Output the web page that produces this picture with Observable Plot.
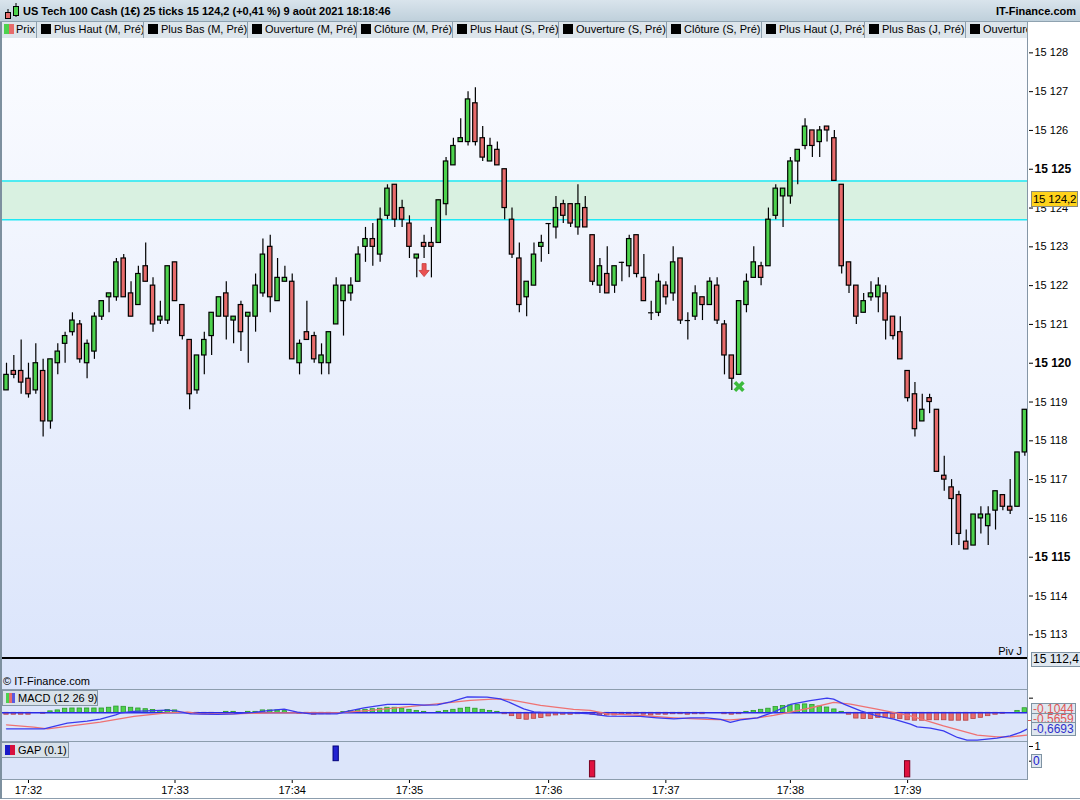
<!DOCTYPE html>
<html><head><meta charset="utf-8">
<script src="https://cdn.jsdelivr.net/npm/d3@7"></script>
<script src="https://cdn.jsdelivr.net/npm/@observablehq/plot@0.6"></script>
<style>
body{margin:0;background:#fff;font-family:"Liberation Sans",Arial,sans-serif;}
#root{position:relative;width:1080px;height:800px;overflow:hidden;background:#fff;}
.abs{position:absolute;}
.tab{position:absolute;top:22px;height:16px;box-sizing:border-box;border-right:1px solid #8d9fad;background:#dde5eb;font-size:11px;line-height:15px;white-space:nowrap;overflow:hidden;}
.tab i{display:inline-block;width:10px;height:10px;background:#000;vertical-align:-1px;margin:0 3px 0 4px;}
.box{position:absolute;background:#d8e1e9;border:1px solid #8596a5;font-size:11px;line-height:14px;white-space:nowrap;box-sizing:border-box;}
.rbox{position:absolute;background:#dfe7ef;border:1px solid #7f93a3;font-size:12px;line-height:13px;white-space:nowrap;box-sizing:border-box;padding:0 1px;}
</style></head><body><div id="root"></div>
<script>
// ---------- DATA ----------
const open = [15119.3,15119.8,15119.8,15119.6,15119.3,15119.8,15118.5,15120.0,15120.5,15120.8,15121.0,15120.0,15120.3,15121.2,15121.7,15121.7,15122.7,15121.8,15121.5,15122.5,15122.0,15121.1,15121.1,15122.6,15121.5,15120.6,15119.3,15120.2,15120.7,15121.2,15121.8,15121.1,15121.5,15121.2,15121.2,15121.8,15123.0,15121.6,15122.1,15122.1,15120.0,15120.8,15120.7,15120.0,15120.0,15121.0,15121.6,15121.8,15122.1,15123.0,15123.2,15122.8,15123.8,15124.6,15124.0,15123.6,15122.7,15123.1,15123.1,15123.1,15124.1,15125.1,15125.7,15125.7,15126.7,15125.8,15125.2,15125.5,15125.0,15123.7,15122.7,15121.7,15122.0,15123.0,15123.6,15123.5,15124.1,15124.1,15123.5,15124.0,15123.3,15122.0,15122.3,15122.0,15122.6,15122.5,15123.3,15122.2,15121.3,15121.3,15122.0,15121.8,15122.7,15121.1,15121.2,15121.7,15121.5,15122.0,15121.0,15120.2,15119.7,15121.5,15122.2,15122.5,15122.5,15123.8,15124.3,15124.3,15125.2,15125.6,15126.0,15125.7,15126.1,15125.8,15124.6,15122.6,15122.0,15121.3,15121.7,15121.7,15121.8,15121.2,15120.8,15119.8,15119.2,15118.5,15119.1,15118.8,15117.1,15116.8,15116.6,15115.4,15115.3,15116.0,15115.8,15116.2,15116.6,15116.3,15116.3,15117.7];
const high = [15120.0,15120.2,15120.6,15120.0,15120.5,15120.1,15120.1,15120.5,15120.8,15121.3,15121.1,15120.6,15121.3,15121.6,15121.8,15122.7,15122.8,15122.1,15122.5,15123.1,15122.2,15121.6,15122.5,15122.6,15121.5,15120.6,15120.2,15120.8,15121.3,15121.7,15122.1,15121.2,15121.6,15121.3,15122.3,15123.2,15123.3,15122.7,15122.5,15122.3,15120.6,15121.6,15120.8,15120.5,15120.8,15122.2,15122.0,15122.2,15123.0,15123.5,15123.6,15124.0,15124.6,15124.6,15124.2,15123.8,15122.8,15123.3,15123.5,15124.2,15125.3,15125.8,15126.3,15127.0,15127.1,15126.1,15125.8,15125.7,15125.0,15124.0,15123.1,15122.1,15123.1,15123.3,15123.6,15124.3,15124.2,15124.1,15124.6,15124.3,15123.3,15122.7,15123.0,15122.5,15122.6,15123.3,15123.3,15122.8,15121.6,15122.3,15122.1,15123.0,15122.7,15121.3,15122.0,15121.7,15122.2,15122.2,15121.1,15120.2,15121.6,15122.3,15123.0,15122.6,15124.0,15124.6,15124.5,15125.3,15125.5,15126.3,15126.0,15126.1,15126.1,15126.0,15124.6,15122.6,15122.0,15121.8,15122.1,15122.2,15122.0,15121.2,15121.2,15119.8,15119.5,15119.2,15119.2,15118.8,15117.6,15117.0,15116.7,15115.7,15116.1,15116.3,15116.3,15116.7,15116.6,15117.0,15117.7,15118.8];
const low = [15119.3,15119.6,15119.2,15119.1,15119.2,15118.1,15118.3,15119.7,15120.0,15120.7,15120.0,15119.6,15120.1,15121.1,15121.3,15121.6,15121.7,15121.2,15121.5,15122.1,15120.8,15121.0,15121.0,15121.6,15120.6,15118.8,15119.2,15119.7,15120.2,15121.2,15120.6,15120.5,15120.3,15120.0,15120.8,15121.7,15121.3,15121.6,15122.1,15120.1,15119.7,15120.6,15120.0,15119.7,15119.7,15121.0,15120.7,15121.6,15122.1,15122.6,15122.5,15122.6,15123.7,15123.5,15123.5,15122.7,15122.2,15122.7,15122.2,15123.1,15123.8,15125.1,15125.7,15125.6,15125.6,15125.2,15125.2,15125.1,15123.7,15122.7,15121.3,15121.2,15122.0,15122.6,15122.8,15123.2,15123.6,15123.5,15123.3,15123.5,15122.0,15121.8,15121.8,15121.8,15122.1,15122.2,15122.2,15121.6,15121.1,15121.2,15121.5,15121.6,15121.0,15120.6,15121.1,15121.1,15121.5,15121.0,15119.7,15119.3,15119.7,15121.3,15122.2,15122.0,15122.5,15123.7,15123.5,15124.1,15124.6,15125.5,15125.3,15125.3,15125.7,15124.7,15122.3,15121.8,15121.0,15121.3,15121.6,15121.3,15120.6,15120.6,15120.1,15119.0,15118.1,15118.5,15118.7,15117.2,15116.7,15115.3,15115.3,15115.2,15115.3,15115.6,15115.3,15115.7,15116.2,15116.1,15116.3,15117.6];
const close = [15119.7,15119.7,15119.5,15119.2,15120.0,15118.5,15120.1,15120.3,15120.7,15121.1,15120.1,15120.5,15121.2,15121.6,15121.8,15122.6,15121.7,15121.2,15122.3,15122.1,15121.0,15121.2,15122.5,15121.6,15120.7,15119.2,15120.2,15120.6,15121.3,15121.7,15121.2,15121.2,15120.8,15121.3,15122.0,15122.8,15121.7,15122.2,15122.2,15120.1,15120.5,15120.6,15120.1,15120.2,15120.8,15122.0,15122.0,15122.0,15122.8,15123.2,15123.0,15123.7,15124.5,15123.7,15123.7,15123.0,15122.8,15123.0,15123.0,15124.2,15125.2,15125.6,15125.8,15126.8,15125.7,15125.3,15125.6,15125.1,15124.0,15122.8,15121.5,15122.1,15122.8,15123.1,15123.6,15124.0,15123.8,15123.6,15124.1,15123.5,15122.1,15122.5,15121.8,15122.5,15122.6,15123.2,15122.3,15121.6,15121.3,15122.1,15121.7,15122.6,15121.1,15121.1,15121.8,15121.5,15122.1,15121.1,15120.2,15119.6,15121.6,15122.1,15122.6,15122.2,15123.7,15124.5,15124.5,15125.2,15125.5,15126.1,15125.6,15126.0,15126.0,15124.7,15122.5,15122.0,15121.2,15121.6,15121.8,15122.0,15121.1,15120.7,15120.1,15119.1,15118.3,15118.8,15119.0,15117.2,15117.0,15116.5,15115.6,15115.2,15116.1,15116.1,15116.1,15116.7,15116.3,15116.2,15117.7,15118.8];

const zoneTop = 15124.7, zoneBottom = 15123.7;
const pivotPrice = 15112.4;
const lastPrice = 15124.2;
const priceTicks = [15113,15114,15115,15116,15117,15118,15119,15120,15121,15122,15123,15124,15125,15126,15127,15128];
const boldTicks = [15115,15120,15125];
const timeTickIndex = [3,23,39,55,74,90,107,123];
const timeTickLabels = ["17:32","17:33","17:34","17:35","17:36","17:37","17:38","17:39"];
const sellIndex = [57], sellPrice = [15122.4];
const buyIndex = [100], buyPrice = [15119.4];

const macdHist = [-0.08,-0.08,-0.08,-0.08,0,-0.04,0.06,0.1,0.17,0.18,0.18,0.18,0.18,0.18,0.21,0.26,0.25,0.21,0.18,0.15,0.12,0.08,0.12,0.1,0,-0.04,-0.04,-0.04,-0.04,0,0.04,0.04,0,0.04,0.04,0.1,0.1,0.1,0.07,0,-0.04,-0.04,-0.08,-0.06,-0.06,0,0.03,0.07,0.11,0.125,0.15,0.17,0.21,0.21,0.17,0.125,0.08,0.04,0,0.04,0.08,0.125,0.17,0.21,0.17,0.125,0.08,0.04,-0.06,-0.14,-0.26,-0.29,-0.25,-0.22,-0.15,-0.11,-0.08,-0.08,-0.06,-0.04,-0.08,-0.11,-0.11,-0.11,-0.08,-0.06,-0.06,-0.08,-0.11,-0.08,-0.08,-0.06,-0.06,-0.08,-0.06,-0.06,0,0,-0.06,-0.08,-0.06,0.04,0.08,0.125,0.17,0.24,0.28,0.31,0.32,0.35,0.33,0.26,0.22,0.14,0.04,-0.08,-0.24,-0.26,-0.26,-0.21,-0.21,-0.24,-0.26,-0.31,-0.33,-0.33,-0.31,-0.31,-0.31,-0.33,-0.33,-0.33,-0.26,-0.21,-0.14,-0.08,-0.04,0,0.08,0.19];
const macdX = [0,5.1,8.3,11.0,12.8,14.9,15.6,17.4,21.9,23.3,25.1,28.8,31.0,33.8,36.0,37.9,39.7,41.5,45.1,46.5,48.8,52.0,55.1,57.0,58.8,60.6,62.9,65.6,67.4,68.8,70.6,72.0,72.9,77.4,79.7,82.0,86.5,88.8,91.1,93.4,95.6,97.5,98.8,100.2,102.5,104.7,107.0,109.7,112.0,112.9,114.3,116.6,118.8,121.1,123.4,124.3,126.1,127.9,129.8,131.1,132.5,135.2,137.0,138.4,139.3];
const macdY = [-0.667,-0.667,-0.431,-0.347,-0.264,-0.083,0,0.056,0.111,0.069,-0.042,-0.069,-0.042,0.014,0.097,0.153,0.028,-0.042,-0.042,0.056,0.208,0.347,0.347,0.319,0.333,0.458,0.667,0.653,0.583,0.417,0.167,0.042,0.028,0,-0.042,-0.139,-0.153,-0.208,-0.25,-0.208,-0.208,-0.278,-0.403,-0.292,-0.208,0.028,0.347,0.51,0.611,0.569,0.361,0.083,-0.125,-0.264,-0.472,-0.583,-0.639,-0.75,-1.028,-1.139,-1.139,-1.056,-0.958,-0.819,-0.681];
const signalX = [0,3.7,5.6,8.3,12.8,17.4,21.9,24.7,26.5,31.0,36.0,40.6,45.1,49.7,54.2,58.8,63.3,67.0,68.8,72.9,77.4,79.7,82.0,86.5,91.1,95.6,98.8,102.5,104.7,107.0,109.7,112.9,115.2,118.8,123.4,127.9,132.5,135.2,137.0,139.3];
const signalY = [-0.5,-0.597,-0.667,-0.569,-0.389,-0.153,0,0.028,-0.042,-0.042,0,0,0,0.097,0.236,0.375,0.514,0.583,0.542,0.306,0.139,0.097,-0.042,-0.111,-0.208,-0.278,-0.292,-0.208,-0.111,0.028,0.2,0.431,0.361,0.153,-0.125,-0.542,-0.931,-1.0,-1.0,-0.931];
const gapIndex = [45,80,123];
const gapValue = [1,-1.1,-1.1];

// ---------- LAYOUT ----------
const W = 1080;
const xDomain = [-0.819, 139.5];
const FONT = "'Liberation Sans', Arial, sans-serif";
const GREEN = "#4dd24d", RED = "#e76b6b";
const fmtPrice = d => `${Math.floor(d/1000)} ${String(d%1000).padStart(3,"0")}`;
const root = document.getElementById("root");
function add(html){ root.insertAdjacentHTML("beforeend", html); }
function place(node, left, top){ const d = document.createElement("div"); d.className="abs"; d.style.left=left+"px"; d.style.top=top+"px"; d.appendChild(node); root.appendChild(d); }

// header
add(`<div class="abs" style="left:0;top:0;width:1080px;height:22px;background:linear-gradient(#d9e4ec,#bfd0db);border-bottom:1px solid #8fa2b0;box-sizing:border-box"></div>`);
add(`<svg class="abs" style="left:2px;top:2px" width="18" height="18"><line x1="6" y1="7" x2="6" y2="17" stroke="#000"/><rect x="3.5" y="10.5" width="5" height="6" fill="#e76b6b" stroke="#000"/><line x1="14" y1="1" x2="14" y2="15" stroke="#000"/><rect x="11.5" y="4.5" width="5" height="9" fill="#4dd24d" stroke="#000"/></svg>`);
add(`<div class="abs" style="left:23px;top:0;height:22px;line-height:22px;font-size:11px;font-weight:bold">US Tech 100 Cash (1€) 25 ticks 15 124,2 (+0,41 %) 9 août 2021 18:18:46</div>`);
add(`<div class="abs" style="right:4px;top:0;height:22px;line-height:22px;font-size:11px;font-weight:bold">IT-Finance.com</div>`);
// legend tabs
const tabs = [[0,37,"Prix"],[37,144,"Plus Haut (M, Pré)"],[144,248,"Plus Bas (M, Pré)"],[248,357,"Ouverture (M, Pré)"],[357,453,"Clôture (M, Pré)"],[453,559,"Plus Haut (S, Pré)"],[559,667,"Ouverture (S, Pré)"],[667,762,"Clôture (S, Pré)"],[762,865,"Plus Haut (J, Pré)"],[865,966,"Plus Bas (J, Pré)"],[966,1028,"Ouverture"]];
add(`<div class="abs" style="left:0;top:22px;width:1028px;height:16px;background:#dde5eb;border-bottom:1px solid #8fa2b0;box-sizing:border-box"></div>`);
tabs.forEach(([a,b,t],k)=>{
  const icon = k===0 ? `<span style="display:inline-block;width:5px;height:10px;background:#4dd24d;margin-left:4px;vertical-align:-1px"></span><span style="display:inline-block;width:5px;height:10px;background:#e76b6b;margin-right:2px;vertical-align:-1px"></span>` : `<i></i>`;
  add(`<div class="tab" style="left:${a}px;width:${b-a}px">${icon}${t}</div>`);
});

// panel backgrounds
add(`<div class="abs" style="left:0;top:38px;width:1028px;height:651px;background:linear-gradient(#fbfcff,#dae4fb)"></div>`);
add(`<div class="abs" style="left:0;top:689px;width:1028px;height:90px;background:#dce5fa"></div>`);

// ---------- PRICE PANEL ----------
const candles = d3.range(open.length).map(i => ({i, o: open[i], h: high[i], l: low[i], c: close[i]}));
const ups = candles.filter(d => d.c - d.o > 0.05);
const downs = candles.filter(d => d.o - d.c > 0.05);
const dojis = candles.filter(d => Math.abs(d.c - d.o) <= 0.05);
const sells = sellIndex.map((i,k)=>({i, p: sellPrice[k]}));
const buys = buyIndex.map((i,k)=>({i, p: buyPrice[k]}));

const arrowDown = {draw(ctx, size){ const h = Math.sqrt(size/Math.PI);
  ctx.moveTo(-0.31*h,-h); ctx.lineTo(0.31*h,-h); ctx.lineTo(0.31*h,0.05*h); ctx.lineTo(0.78*h,0.05*h);
  ctx.lineTo(0,h); ctx.lineTo(-0.78*h,0.05*h); ctx.lineTo(-0.31*h,0.05*h); ctx.closePath(); }};
const crossX = {draw(ctx, size){ const h = Math.sqrt(size/Math.PI), w = 0.3*h, r = Math.SQRT1_2;
  const pts = [[w,w],[w,h],[-w,h],[-w,w],[-h,w],[-h,-w],[-w,-w],[-w,-h],[w,-h],[w,-w],[h,-w],[h,w]].map(([x,y])=>[(x-y)*r,(x+y)*r]);
  ctx.moveTo(...pts[0]); pts.slice(1).forEach(p=>ctx.lineTo(...p)); ctx.closePath(); }};

const pricePlot = Plot.plot({
  width: W, height: 651, marginLeft: 0, marginRight: 52, marginTop: 0, marginBottom: 0,
  style: {background: "transparent", fontFamily: FONT, overflow: "visible", color: "#000"},
  x: {domain: xDomain, axis: null},
  y: {domain: [15111.59, 15128.37], axis: null},
  marks: [
    Plot.rect([0], {x1: () => xDomain[0], x2: () => xDomain[1], y1: () => zoneBottom, y2: () => zoneTop, fill: "#d9f1e1"}),
    Plot.ruleY([zoneTop, zoneBottom], {stroke: "#1ee8f4", strokeWidth: 1.5}),
    Plot.ruleY([pivotPrice], {stroke: "#000", strokeWidth: 2}),
    Plot.ruleX(candles, {x: "i", y1: "l", y2: "h", stroke: "#000", strokeWidth: 1.2}),
    Plot.rect(ups, {x1: d => d.i - 0.3, x2: d => d.i + 0.3, y1: "o", y2: "c", fill: GREEN, stroke: "#000", strokeWidth: 1.2}),
    Plot.rect(downs, {x1: d => d.i - 0.3, x2: d => d.i + 0.3, y1: "o", y2: "c", fill: RED, stroke: "#000", strokeWidth: 1.2}),
    Plot.ruleY(dojis, {y: "o", x1: d => d.i - 0.36, x2: d => d.i + 0.36, stroke: "#000", strokeWidth: 1.2}),
    Plot.dot(sells, {x: "i", y: "p", symbol: arrowDown, r: 6.5, fill: "#ea5151", stroke: "#c43a3a", strokeWidth: 0.8}),
    Plot.dot(buys, {x: "i", y: "p", symbol: crossX, r: 6, fill: "#3cba3c", stroke: "none"}),
    Plot.axisY(priceTicks.filter(d => !boldTicks.includes(d)), {anchor: "right", tickSize: 4, tickPadding: 2, tickFormat: fmtPrice, fontSize: 11, label: null}),
    Plot.axisY(boldTicks, {anchor: "right", tickSize: 4, tickPadding: 2, tickFormat: fmtPrice, fontSize: 12, fontWeight: "bold", label: null})
  ]
});
place(pricePlot, 0, 38);

// ---------- MACD PANEL ----------
const hist = macdHist.map((v,i)=>({i, v}));
const macdPts = macdX.map((x,k)=>({x, y: macdY[k]}));
const sigPts = signalX.map((x,k)=>({x, y: signalY[k]}));
const macdPlot = Plot.plot({
  width: W, height: 52, marginLeft: 0, marginRight: 52, marginTop: 0, marginBottom: 0,
  style: {background: "transparent", fontFamily: FONT, overflow: "visible", color: "#000"},
  x: {domain: xDomain, axis: null},
  y: {domain: [-1.196, 0.971], axis: null},
  marks: [
    Plot.rect(hist.filter(d => d.v > 0), {x1: d => d.i - 0.3, x2: d => d.i + 0.3, y1: () => 0, y2: "v", fill: GREEN, stroke: "#2b9a2b", strokeWidth: 0.8}),
    Plot.rect(hist.filter(d => d.v < 0), {x1: d => d.i - 0.3, x2: d => d.i + 0.3, y1: () => 0, y2: "v", fill: RED, stroke: "#b94545", strokeWidth: 0.8}),
    Plot.ruleY([0], {stroke: "#2a2ae6", strokeWidth: 1.5}),
    Plot.line(sigPts, {x: "x", y: "y", stroke: "#ef7272", strokeWidth: 1.3}),
    Plot.line(macdPts, {x: "x", y: "y", stroke: "#3a3aee", strokeWidth: 1.3}),
    Plot.axisY([0.61], {anchor: "right", tickSize: 4, tickFormat: () => "", label: null})
  ]
});
place(macdPlot, 0, 689);

// ---------- GAP PANEL + TIME AXIS ----------
const gaps = gapIndex.map((i,k)=>({i, v: gapValue[k]}));
const gapPlot = Plot.plot({
  width: W, height: 59, marginLeft: 0, marginRight: 52, marginTop: 0, marginBottom: 21,
  style: {background: "transparent", fontFamily: FONT, overflow: "visible", color: "#000"},
  x: {domain: xDomain, axis: null},
  y: {domain: [-1.245, 1.34], axis: null},
  marks: [
    Plot.rect(gaps.filter(d => d.v > 0), {x1: d => d.i - 0.36, x2: d => d.i + 0.36, y1: () => 0, y2: "v", fill: "#2323d2", stroke: "#00007a", strokeWidth: 1}),
    Plot.rect(gaps.filter(d => d.v < 0), {x1: d => d.i - 0.36, x2: d => d.i + 0.36, y1: () => 0, y2: "v", fill: "#e0123f", stroke: "#7a0020", strokeWidth: 1}),
    Plot.axisY([1], {anchor: "right", tickSize: 4, tickPadding: 2, fontSize: 11, tickFormat: () => "1", label: null}),
    Plot.axisY([0], {anchor: "right", tickSize: 4, tickFormat: () => "", label: null}),
    Plot.axisX(timeTickIndex, {anchor: "bottom", tickSize: 4, tickPadding: 3, fontSize: 11, tickFormat: d => timeTickLabels[timeTickIndex.indexOf(d)], label: null})
  ]
});
place(gapPlot, 0, 741);

// ---------- FRAME LINES & OVERLAYS ----------
const line = (l,t,w,h,c) => add(`<div class="abs" style="left:${l}px;top:${t}px;width:${w}px;height:${h}px;background:${c}"></div>`);
line(0, 689, 1028, 1, "#8c9dad");
line(0, 741, 1028, 1, "#8c9dad");
line(0, 779, 1028, 1, "#8c9dad");
line(0, 798, 1080, 1, "#8c9dad");
line(0, 22, 2, 777, "#7d909f");
line(1027, 38, 1, 742, "#8596a6");

add(`<div class="abs" style="left:3px;top:675px;font-size:11px;line-height:13px">© IT-Finance.com</div>`);
add(`<div class="abs" style="left:995px;top:645px;width:27px;text-align:right;font-size:11px;line-height:13px">Piv J</div>`);
add(`<div class="box" style="left:2px;top:690px;width:96px;height:16px;padding-left:3px"><span style="display:inline-block;width:3px;height:10px;background:#4dd24d;vertical-align:-1px"></span><span style="display:inline-block;width:3px;height:10px;background:#e76b6b;vertical-align:-1px"></span><span style="display:inline-block;width:3px;height:10px;background:#5a5ae0;vertical-align:-1px;margin-right:3px"></span>MACD (12 26 9)</div>`);
add(`<div class="box" style="left:1px;top:742px;width:68px;height:16px;padding-left:3px"><span style="display:inline-block;width:5px;height:10px;background:#1a1ac8;vertical-align:-1px"></span><span style="display:inline-block;width:5px;height:10px;background:#d8103c;vertical-align:-1px;margin-right:3px"></span>GAP (0.1)</div>`);

add(`<div class="rbox" style="left:1031px;top:191px;width:47px;height:16px;line-height:14px;padding:0;text-align:center;font-size:11.5px;letter-spacing:-0.2px;background:#ffd21a;border-color:#8a8a7a">15 124,2</div>`);
add(`<div class="rbox" style="left:1031px;top:652px;height:15px">15 112,4</div>`);
add(`<div class="rbox" style="left:1031px;top:703px;height:12px;line-height:11px;color:#e05555">-0,1044</div>`);
add(`<div class="rbox" style="left:1031px;top:713px;height:12px;line-height:11px;color:#e05555">-0,5659</div>`);
line(1028, 720, 3, 1, "#e05555");
add(`<div class="rbox" style="left:1031px;top:722px;height:14px;line-height:12px;color:#3030cc">-0,6693</div>`);
add(`<div class="rbox" style="left:1031px;top:754px;height:14px;line-height:12px;color:#2020cc">0</div>`);
</script></body></html>
